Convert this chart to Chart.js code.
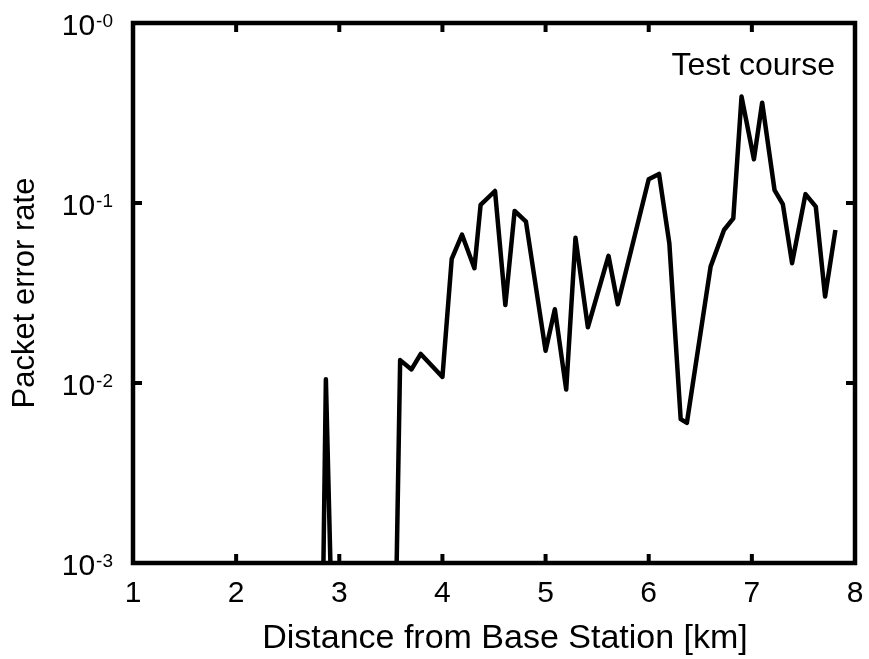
<!DOCTYPE html>
<html lang="en">
<head>
  <meta charset="UTF-8">
  <title>Packet error rate vs distance</title>
  <script src="https://cdn.jsdelivr.net/npm/chart.js"></script>
  <style>
    body { margin: 0; background: #fff; }
    #wrap { width: 869px; height: 659px; }
  </style>
</head>
<body>
  <div id="wrap"><canvas id="perChart" width="869" height="659"></canvas></div>
  <script>
    // distance [km] and packet error rate (tiny values sit below the axis)
    const distance = [1.0, 2.80, 2.87, 3.00, 3.50, 3.59, 3.70, 3.79, 4.00, 4.09, 4.19, 4.31, 4.37, 4.51,
      4.61, 4.70, 4.81, 5.00, 5.09, 5.20, 5.29, 5.41, 5.61, 5.70, 6.00, 6.10, 6.20, 6.31, 6.37,
      6.60, 6.73, 6.82, 6.90, 7.02, 7.10, 7.22, 7.30, 7.39, 7.52, 7.62, 7.71, 7.81];
    const errorRate = [1e-5, 1e-5, 0.0105, 1e-5, 1.3e-5, 0.0134, 0.0119, 0.0145, 0.0108, 0.0489, 0.0667, 0.0434, 0.0975, 0.1166,
      0.0271, 0.0903, 0.0787, 0.0151, 0.0257, 0.0092, 0.0641, 0.0204, 0.0509, 0.0274, 0.1355, 0.145, 0.0597, 0.0063, 0.0060,
      0.0443, 0.0708, 0.0822, 0.39, 0.175, 0.361, 0.118, 0.0987, 0.0463, 0.112, 0.0954, 0.0302, 0.0708];
    const xTicks = [1, 2, 3, 4, 5, 6, 7, 8];
    const yTicks = [1, 0.1, 0.01, 0.001];
    const yTickExp = ['-0', '-1', '-2', '-3'];
    const seriesLabel = 'Test course';

    const font = '"Liberation Sans", Arial, sans-serif';

    // frame, inner ticks, labels drawn by hand to look like the gnuplot original
    const framePlugin = {
      id: 'frame',
      afterDatasetsDraw(chart) {
        const ctx = chart.ctx, a = chart.chartArea;
        const xs = chart.scales.x, ys = chart.scales.y;
        ctx.save();
        ctx.strokeStyle = '#000';
        ctx.lineWidth = 4;
        ctx.lineCap = 'butt';
        // tick marks on all sides
        xTicks.forEach(v => {
          const px = xs.getPixelForValue(v);
          ctx.beginPath();
          ctx.moveTo(px, a.bottom); ctx.lineTo(px, a.bottom - 9);
          ctx.moveTo(px, a.top); ctx.lineTo(px, a.top + 9);
          ctx.stroke();
        });
        yTicks.forEach(v => {
          const py = ys.getPixelForValue(v);
          ctx.beginPath();
          ctx.moveTo(a.left, py); ctx.lineTo(a.left + 9, py);
          ctx.moveTo(a.right, py); ctx.lineTo(a.right - 9, py);
          ctx.stroke();
        });
        ctx.lineWidth = 4.5;
        ctx.lineJoin = 'miter';
        ctx.strokeRect(a.left, a.top, a.right - a.left, a.bottom - a.top);

        ctx.fillStyle = '#000';
        // x tick labels
        ctx.font = '30px ' + font;
        ctx.textAlign = 'center';
        ctx.textBaseline = 'alphabetic';
        xTicks.forEach(v => ctx.fillText(String(v), xs.getPixelForValue(v), 602));
        // y tick labels 10^-n
        yTicks.forEach((v, i) => {
          const py = ys.getPixelForValue(v);
          ctx.font = '19px ' + font;
          ctx.textAlign = 'right';
          ctx.fillText(yTickExp[i], 113, py + 4);
          const ew = ctx.measureText(yTickExp[i]).width;
          ctx.font = '30px ' + font;
          ctx.fillText('10', 113 - ew - 1, py + 12);
        });
        // axis titles
        ctx.font = '34px ' + font;
        ctx.textAlign = 'center';
        ctx.fillText('Distance from Base Station [km]', 505, 648);
        ctx.font = '31px ' + font;
        ctx.save();
        ctx.translate(34, (a.top + a.bottom) / 2);
        ctx.rotate(-Math.PI / 2);
        ctx.fillText('Packet error rate', 0, 0);
        ctx.restore();
        // series key
        ctx.font = '32px ' + font;
        ctx.textAlign = 'right';
        ctx.fillText(seriesLabel, 835, 75);
        ctx.restore();
      }
    };

    new Chart(document.getElementById('perChart'), {
      type: 'scatter',
      data: {
        datasets: [{
          label: seriesLabel,
          data: distance.map((d, i) => ({ x: d, y: errorRate[i] })),
          showLine: true,
          borderColor: '#000',
          borderWidth: 4.5,
          borderJoinStyle: 'round',
          pointRadius: 0,
          tension: 0,
          clip: 0
        }]
      },
      options: {
        responsive: false,
        animation: false,
        layout: { padding: { left: 133, right: 14, top: 23, bottom: 96 } },
        plugins: { legend: { display: false }, tooltip: { enabled: false } },
        scales: {
          x: { type: 'linear', min: 1, max: 8, display: false },
          y: { type: 'logarithmic', min: 0.001, max: 1, display: false }
        }
      },
      plugins: [framePlugin]
    });
  </script>
</body>
</html>
